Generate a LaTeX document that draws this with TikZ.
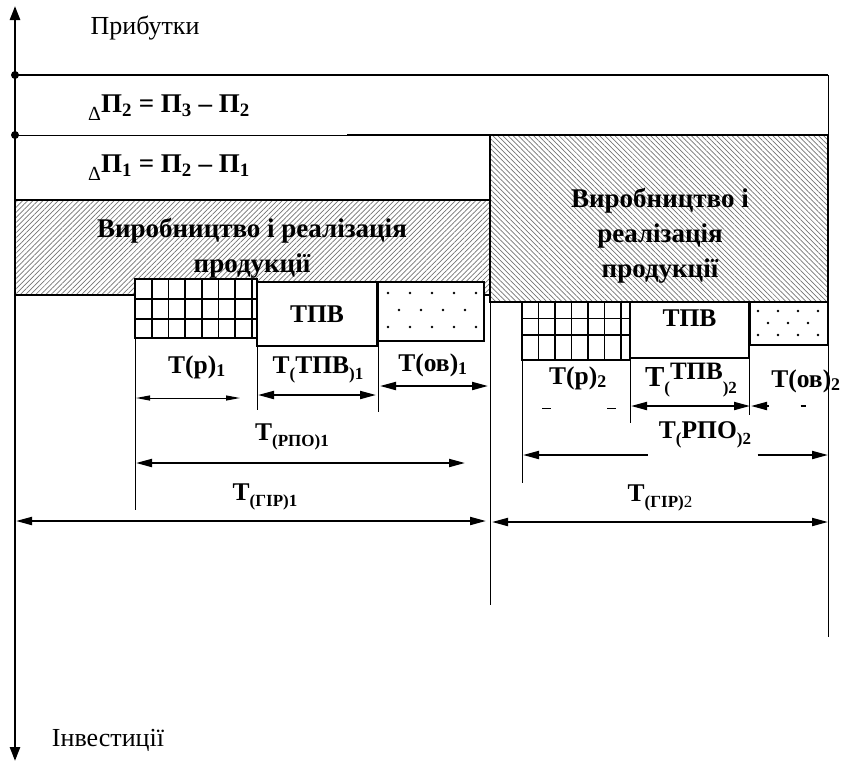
\documentclass[tikz,border=0pt]{standalone}
\usepackage{fontspec}
\setmainfont{Liberation Serif}
\usepackage{tikz}
\usetikzlibrary{positioning,arrows.meta,patterns.meta}
\tikzstyle{axis} = [line width=2.6pt,{Triangle[length=14pt,width=10pt]}-{Triangle[length=14pt,width=10pt]}]
\tikzstyle{arrow} = [line width=2pt,{Triangle[length=16pt,width=8pt]}-{Triangle[length=16pt,width=8pt]}]
\tikzstyle{tarrow} = [line width=1pt,{Triangle[length=14pt,width=5pt]}-{Triangle[length=14pt,width=5pt]}]
\tikzstyle{ext} = [line width=0.9pt]
\newcommand{\lowtxt}[1]{\raisebox{-0.25em}{\fontsize{17}{17}\selectfont #1}}
\newcommand{\dlt}{\raisebox{-0.3em}{\fontsize{20}{20}\selectfont\mdseries Δ}}
\tikzset{
 band/.style
  = {draw, line width=2.6pt, inner sep=0pt, outer sep=0pt, anchor=north west,
     pattern={Lines[angle=45,distance=3.6pt,line width=0.7pt]}, pattern color=black!55},
 bandr/.style
  = {band, pattern={Lines[angle=-45,distance=3.6pt,line width=0.7pt]}},
 cell/.style
  = {draw, fill=white, line width=2.6pt, inner sep=0pt, outer sep=0pt, anchor=north west},
 lbl/.style
  = {inner sep=0pt, font=\fontsize{25.5}{27}\selectfont\bfseries},
 lvl/.style
  = {lbl, anchor=west, font=\fontsize{27}{29}\selectfont\bfseries},
 big/.style
  = {inner sep=0pt, align=center, font=\fontsize{27}{35}\selectfont\bfseries},
 plain/.style
  = {inner sep=0pt, font=\fontsize{26}{28}\selectfont},
}

\begin{document}
\begin{tikzpicture}[x=1pt, y=-1pt]
\useasboundingbox (0,0) rectangle (844,763);
% axis
\coordinate (up) at (15,6);
\coordinate (down) at (15,761);
\draw [axis] (down) -- (up);
\node (profit) [plain] at (145,28) {Прибутки};
\node (invest) [plain] at (108,740) {Інвестиції};
% profit levels
\coordinate (lvA) at (15,75);
\coordinate (lvAr) at (828,75);
\coordinate (lvB) at (15,135);
\coordinate (lvBm) at (347,135);
\coordinate (endA) at (490,605);
\coordinate (endB) at (828,637);
\draw [line width=2pt] (lvA) -- (lvAr);
\draw [ext] (lvB) -- (lvBm);
\fill (lvA) circle (4pt) (lvB) circle (4pt);
\node (dB) [lvl] at (88,108) {\dlt П\textsubscript{2} = П\textsubscript{3} -- П\textsubscript{2}};
\node (dA) [lvl] at (88,168) {\dlt П\textsubscript{1} = П\textsubscript{2} -- П\textsubscript{1}};
% production
\node (prodA) [band, minimum width=475pt, minimum height=95pt] at (15,200) {};
\node (prodB) [bandr, minimum width=338pt, minimum height=167pt] at (490,135) {};
\draw [line width=2pt] (lvBm) -- (prodB.north west);
\draw [ext] (lvAr) -- (endB);
\draw [ext] (prodA.south east) -- (endA);
\node (prodAt) [big] at (252,248) {Виробництво і реалізація\\продукції};
\node (prodBt) [big] at (660,236) {Виробництво і\\реалізація\\продукції};
% stages
\node (rA) [cell, minimum width=122pt, minimum height=59pt] at (135,279) {};
\node (tA) [cell, minimum width=120pt, minimum height=64pt] at (257,282) {};
\node (oA) [cell, minimum width=106pt, minimum height=59pt] at (378,282) {};
\node (rB) [cell, minimum width=108pt, minimum height=58pt] at (522,302) {};
\node (tB) [cell, minimum width=119pt, minimum height=56pt] at (630,302) {};
\node (oB) [cell, minimum width=78pt, minimum height=43pt] at (750,302) {};
\node [lbl] at (tA.center) {ТПВ};
\node [lbl, below=8pt of tB.north] {ТПВ};
\foreach \i in {1,...,7}
  \draw [line width=1.6pt] ([xshift=\i*16.7pt]rA.north west) -- ([xshift=\i*16.7pt]rA.south west);
\foreach \i in {1,...,6}
  \draw [line width=1.6pt] ([xshift=\i*16.5pt]rB.north west) -- ([xshift=\i*16.5pt]rB.south west);
\foreach \j in {1,2}
  \draw [line width=1.6pt] ([yshift=-\j*20pt]rA.north west) -- ([yshift=-\j*20pt]rA.north east)
                           ([yshift=-\j*16.5pt]rB.north west) -- ([yshift=-\j*16.5pt]rB.north east);
\foreach \x in {388,410,...,476} \fill (\x,293) circle (1.3pt) (\x,327) circle (1.3pt);
\foreach \x in {399,421,...,465} \fill (\x,310) circle (1.3pt);
\foreach \x in {758,778,798,818} \fill (\x,311) circle (1.3pt) (\x,335) circle (1.3pt);
\foreach \x in {768,788,808} \fill (\x,323) circle (1.3pt);
% extension lines
\coordinate (xrA) at (135,510);
\coordinate (xtA) at (257,410);
\coordinate (xoA) at (378,412);
\coordinate (xrB) at (522,483);
\coordinate (xtB) at (630,423);
\coordinate (xoB) at (749,415);
\draw [ext] (rA.south west) -- (xrA);
\draw [ext] (tA.south west) -- (xtA);
\draw [ext] (oA.south west) -- (xoA);
\draw [ext] (rB.south west) -- (xrB);
\draw [ext] (rB.south east) -- (xtB);
\draw [ext] (tB.south east) -- (xoB);
% dimension ends
\path (136,398) coordinate (rAl) (240,398) coordinate (rAr)
      (258,395) coordinate (tAl) (376,395) coordinate (tAr)
      (380,386) coordinate (oAl) (488,386) coordinate (oAr)
      (136,463) coordinate (pAl) (465,463) coordinate (pAr)
      (16,521) coordinate (gAl) (486,521) coordinate (gAr)
      (523,408) coordinate (rBl) (630,408) coordinate (rBr)
      (631,406) coordinate (tBl) (750,406) coordinate (tBr)
      (751,406) coordinate (oBl) (806,406) coordinate (oBr)
      (523,455) coordinate (pBl) (828,455) coordinate (pBr)
      (492,522) coordinate (gBl) (828,522) coordinate (gBr);
\draw [tarrow] (rAl) -- (rAr);
\draw [arrow] (tAl) -- (tAr);
\draw [arrow] (oAl) -- (oAr);
\draw [arrow] (pAl) -- (pAr);
\draw [arrow] (gAl) -- (gAr);
\draw [ext, dash pattern=on 0pt off 19pt on 9pt off 56pt on 9pt off 40pt] (rBl) -- (rBr);
\draw [arrow] (tBl) -- (tBr);
\draw [arrow, -, {Triangle[length=16pt,width=8pt]}-, dash pattern=on 2pt off 32pt on 8pt off 20pt] (oBl) -- (oBr);
\draw [arrow, dash pattern=on 109pt off 110pt on 80pt] (pBl) -- (pBr);
\draw [arrow] (gBl) -- (gBr);
% labels
\node (lrA) [lbl] at (197,367) {Т(р)\textsubscript{1}};
\node (ltA) [lbl] at (318,370) {Т\lowtxt{(}ТПВ\lowtxt{)1}};
\node (loA) [lbl] at (433,365) {Т(ов)\textsubscript{1}};
\node (lpA) [lbl] at (292,437) {Т\lowtxt{(РПО)1}};
\node (lgA) [lbl] at (265,497) {Т\lowtxt{(ГІР)1}};
\node (lrB) [lbl] at (578,378) {Т(р)\textsubscript{2}};
\node (ltB) [lbl] at (691,380) {\fontsize{29}{30}\selectfont Т\lowtxt{(}\raisebox{0.25em}{\fontsize{25}{26}\selectfont ТПВ}\lowtxt{)2}};
\node (loB) [lbl] at (806,381) {Т(ов)\textsubscript{2}};
\node (lpB) [lbl] at (705,435) {Т\lowtxt{(}РПО\lowtxt{)2}};
\node (lgB) [lbl] at (660,498) {Т\lowtxt{(ГІР)\mdseries 2}};
\end{tikzpicture}
\end{document}
